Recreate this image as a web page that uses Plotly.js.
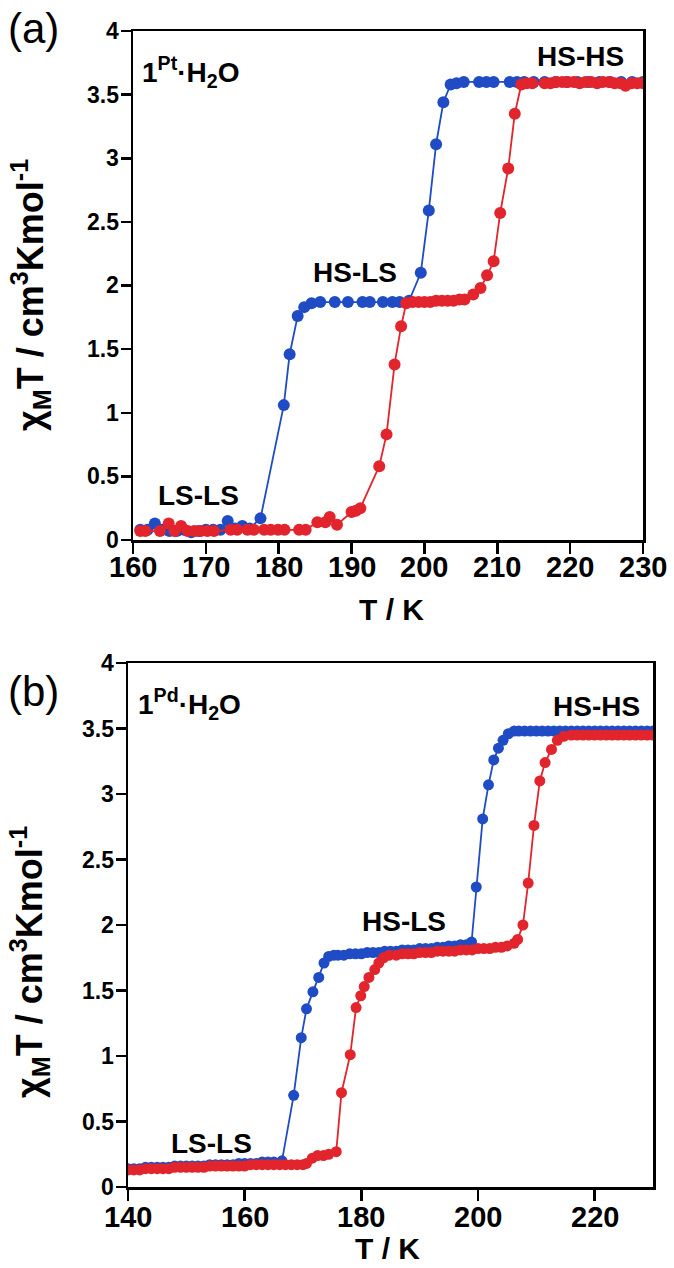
<!DOCTYPE html>
<html lang="en">
<head>
    <meta charset="UTF-8">
    <title>chiMT vs T, 1Pt and 1Pd</title>
    <script src='https://cdn.plot.ly/plotly-3.0.0.min.js'></script>
    <style> body { margin: 0; background: white; } </style>
</head>
<body>
    <div id="plot" style="width:674px; height:1268px;"></div>

    <script>
        // (a) 1Pt.H2O  - blue = cooling, red = heating
        const ptCoolT = [161, 162, 163, 164, 165, 166, 167, 168, 169, 170, 171, 172, 173, 174, 175, 176, 177.5,
            180.7, 181.5, 182.6, 183.5, 184.5, 185.7, 187.7, 189.5, 191.5, 192.5, 194.3, 195.6, 196.6, 197.9,
            199.5, 200.6, 201.6, 202.6, 203.6, 204.4, 205.4, 207.5, 208.5, 209.5, 211.7, 212.7, 213.7,
            215, 216.5, 218, 219.5, 221, 222.5, 224, 225.5, 227, 228.5, 230];
        const ptCoolChi = [0.08, 0.08, 0.13, 0.08, 0.07, 0.07, 0.08, 0.06, 0.07, 0.08, 0.08, 0.08, 0.15, 0.09, 0.11, 0.09, 0.17,
            1.06, 1.46, 1.76, 1.83, 1.86, 1.87, 1.87, 1.87, 1.87, 1.87, 1.87, 1.87, 1.87, 1.88,
            2.10, 2.59, 3.11, 3.44, 3.58, 3.59, 3.60, 3.60, 3.60, 3.60, 3.60, 3.60, 3.60,
            3.60, 3.60, 3.60, 3.60, 3.60, 3.60, 3.60, 3.60, 3.60, 3.60, 3.60];

        const ptHeatT = [161, 161.7, 163.7, 164.9, 165.7, 166.6, 167.5, 168.4, 169.3, 170.2, 171.1, 173.4, 174.3, 175.7, 176.6,
            178, 178.9, 179.9, 180.8, 182.8, 183.7, 185.3, 186.4, 187, 188, 190, 190.6, 191.2,
            193.8, 194.8, 195.9, 196.8, 197.5, 198.4, 199.2, 200, 200.8, 201.6, 202.4, 203.2, 204, 204.8, 205.5,
            206.7, 207.7, 208.6, 209.5, 210.4, 211.5, 212.4, 213.3, 214, 214.8, 216.5, 217.3, 218.1, 218.9,
            219.7, 220.5, 221.3, 222.1, 222.9, 223.7, 224.5, 225.3, 226.1, 226.9, 227.6, 228.4, 229.2, 230];
        const ptHeatChi = [0.07, 0.07, 0.07, 0.13, 0.07, 0.11, 0.07, 0.07, 0.07, 0.07, 0.07, 0.08, 0.08, 0.08, 0.08,
            0.08, 0.08, 0.08, 0.08, 0.08, 0.08, 0.14, 0.14, 0.18, 0.12, 0.22, 0.23, 0.25,
            0.58, 0.83, 1.38, 1.68, 1.86, 1.87, 1.87, 1.87, 1.87, 1.88, 1.88, 1.88, 1.88, 1.89, 1.89,
            1.93, 1.98, 2.08, 2.19, 2.57, 2.92, 3.35, 3.58, 3.59, 3.59, 3.59, 3.59, 3.60, 3.60,
            3.60, 3.60, 3.59, 3.60, 3.60, 3.59, 3.60, 3.60, 3.59, 3.59, 3.57, 3.59, 3.59, 3.59];

        // (b) 1Pd.H2O
        const pdCoolT = [140, 141, 142, 143, 144, 145, 146, 147, 148, 149, 150, 151, 152, 153, 154, 155, 156, 157, 158, 159,
            160, 161, 162, 163, 164, 165, 166.4,
            168.4, 169.7, 170.6, 171.7, 172.7, 173.6, 174.4, 175.3,
            176, 177, 178, 179, 180, 181, 182, 183, 184, 185, 186, 187, 188, 189, 190, 191, 192, 193, 194, 195, 196, 197, 198, 198.9,
            199.7, 200.8, 201.8, 202.7, 203.5, 204.3, 205.2, 206.2,
            207, 208, 209, 210, 211, 212, 213, 214, 215, 216, 217, 218, 219, 220, 221, 222, 223, 224, 225, 226, 227, 228, 229, 230];
        const pdCoolChi = [0.14, 0.14, 0.14, 0.15, 0.15, 0.15, 0.15, 0.15, 0.16, 0.16, 0.16, 0.16, 0.16, 0.16, 0.17, 0.17, 0.17, 0.17, 0.17, 0.18,
            0.18, 0.18, 0.18, 0.19, 0.19, 0.19, 0.20,
            0.70, 1.14, 1.36, 1.49, 1.60, 1.71, 1.76, 1.77,
            1.77, 1.77, 1.78, 1.78, 1.78, 1.79, 1.79, 1.79, 1.80, 1.80, 1.80, 1.81, 1.81, 1.81, 1.82, 1.82, 1.82, 1.83, 1.83, 1.84, 1.84, 1.85, 1.85, 1.87,
            2.29, 2.81, 3.07, 3.26, 3.35, 3.41, 3.46, 3.48,
            3.48, 3.48, 3.48, 3.48, 3.48, 3.48, 3.48, 3.48, 3.48, 3.48, 3.48, 3.48, 3.48, 3.48, 3.48, 3.48, 3.48, 3.48, 3.48, 3.48, 3.48, 3.48, 3.48, 3.48];

        const pdHeatT = [140, 141, 142, 143, 144, 145, 146, 147, 148, 149, 150, 151, 152, 153, 154, 155, 156, 157, 158, 159,
            160, 161, 162, 163, 164, 165, 166, 167, 168, 169, 170,
            170.6, 171.6, 172.5, 173.5, 174.4, 175.7, 176.6, 178.1, 179.1, 179.9, 180.5, 181.3, 182.3, 183.0, 183.8, 184.8,
            186, 187, 188, 189, 190, 191, 192, 193, 194, 195, 196, 197, 198, 199, 200, 201, 202, 203, 204, 205,
            206.2, 206.8, 207.7, 208.6, 209.6, 210.6, 211.5, 212.6, 213.6, 214.7,
            216, 217, 218, 219, 220, 221, 222, 223, 224, 225, 226, 227, 228, 229, 230];
        const pdHeatChi = [0.13, 0.13, 0.13, 0.14, 0.14, 0.14, 0.14, 0.14, 0.15, 0.15, 0.15, 0.15, 0.15, 0.15, 0.16, 0.16, 0.16, 0.16, 0.16, 0.16,
            0.16, 0.17, 0.17, 0.17, 0.17, 0.17, 0.17, 0.17, 0.17, 0.17, 0.17,
            0.18, 0.22, 0.24, 0.24, 0.25, 0.27, 0.72, 1.01, 1.37, 1.46, 1.53, 1.60, 1.66, 1.71, 1.75, 1.77,
            1.77, 1.78, 1.78, 1.78, 1.79, 1.79, 1.79, 1.80, 1.80, 1.80, 1.80, 1.81, 1.81, 1.81, 1.82, 1.82, 1.82, 1.83, 1.83, 1.84,
            1.86, 1.89, 2.00, 2.32, 2.76, 3.10, 3.24, 3.34, 3.41, 3.44,
            3.45, 3.45, 3.45, 3.45, 3.45, 3.45, 3.45, 3.45, 3.45, 3.45, 3.45, 3.45, 3.45, 3.45, 3.45];

        // tick values
        const xTicksA = [160, 170, 180, 190, 200, 210, 220, 230];
        const xTicksB = [140, 160, 180, 200, 220];
        const yTicks = [0, 0.5, 1, 1.5, 2, 2.5, 3, 3.5, 4];

        const W = 674, H = 1268;
        const blue = '#1f4cc4', red = '#e2242c';
        const FONT = 'Liberation Sans';

        function trace(x, y, color, ax, size) {
            return {
                x: x, y: y, type: 'scatter', mode: 'lines+markers',
                xaxis: ax[0], yaxis: ax[1], showlegend: false,
                line: {color: color, width: 1.8},
                marker: {color: color, size: size}
            };
        }

        const data = [
            trace(ptCoolT, ptCoolChi, blue, ['x', 'y'], 12),
            trace(ptHeatT, ptHeatChi, red, ['x', 'y'], 12),
            trace(pdCoolT, pdCoolChi, blue, ['x2', 'y2'], 11),
            trace(pdHeatT, pdHeatChi, red, ['x2', 'y2'], 11)
        ];

        // tick labels are drawn as annotations below (tickfont did not take here)
        function xAx(domain, range, ticks, anchor) {
            return {
                domain: domain, range: range, anchor: anchor,
                tickmode: 'array', tickvals: ticks, showticklabels: false,
                showline: true, mirror: true, linecolor: 'black', linewidth: 2.5,
                ticks: 'outside', ticklen: 11, tickwidth: 2.5, tickcolor: 'black',
                showgrid: false, zeroline: false
            };
        }
        function yAx(domain, anchor) {
            return {
                domain: domain, range: [0, 4], anchor: anchor,
                tickmode: 'array', tickvals: yTicks, showticklabels: false,
                showline: true, mirror: true, linecolor: 'black', linewidth: 2.5,
                ticks: 'outside', ticklen: 10, tickwidth: 2.5, tickcolor: 'black',
                showgrid: false, zeroline: false
            };
        }

        // pixel position -> paper annotation
        function note(text, px, py, size, extra) {
            return Object.assign({
                text: '<b>' + text + '</b>', x: px / W, y: 1 - py / H, xref: 'paper', yref: 'paper',
                showarrow: false, xanchor: 'center', yanchor: 'middle',
                font: {family: FONT, size: size, color: 'black'}
            }, extra || {});
        }
        function panelTag(text, px, py) {
            return note('', px, py, 42, {text: text});
        }
        function xLabels(ticks, xref, py) {
            return ticks.map(v => note(String(v), 0, py, 29, {x: v, xref: xref}));
        }
        function yLabels(yref, axisPx) {
            return yTicks.map(v => note(String(v), axisPx - 12, 0, 23, {y: v, yref: yref, xanchor: 'right'}));
        }

        const yTitle = 'χ<sub>M</sub>T / cm<sup>3</sup>Kmol<sup>-1</sup>';

        const layout = {
            width: W, height: H,
            margin: {l: 0, r: 0, t: 0, b: 0},
            paper_bgcolor: 'white', plot_bgcolor: 'white',
            xaxis: xAx([133 / W, 643 / W], [160, 230], xTicksA, 'y'),
            yaxis: yAx([1 - 540 / H, 1 - 31 / H], 'x'),
            xaxis2: xAx([128 / W, 653 / W], [140, 230], xTicksB, 'y2'),
            yaxis2: yAx([1 - 1187 / H, 1 - 663 / H], 'x2'),
            annotations: [
                panelTag('(a)', 33, 29),
                note('1<sup>Pt</sup>·H<sub>2</sub>O', 140, 72, 28, {xanchor: 'left'}),
                note('HS-HS', 580, 57, 28),
                note('HS-LS', 355, 272, 28),
                note('LS-LS', 198, 495, 28),
                note('T / K', 391, 609, 30),
                note(yTitle, 30, 295, 36, {textangle: -90}),

                panelTag('(b)', 33, 691),
                note('1<sup>Pd</sup>·H<sub>2</sub>O', 136, 704, 28, {xanchor: 'left'}),
                note('HS-HS', 596, 706, 28),
                note('HS-LS', 404, 921, 28),
                note('LS-LS', 211, 1143, 28),
                note('T / K', 387, 1248, 30),
                note(yTitle, 30, 962, 36, {textangle: -90})
            ].concat(xLabels(xTicksA, 'x', 567), yLabels('y', 133),
                     xLabels(xTicksB, 'x2', 1217), yLabels('y2', 128))
        };

        Plotly.newPlot('plot', data, layout, {staticPlot: true});
    </script>
</body>
</html>
